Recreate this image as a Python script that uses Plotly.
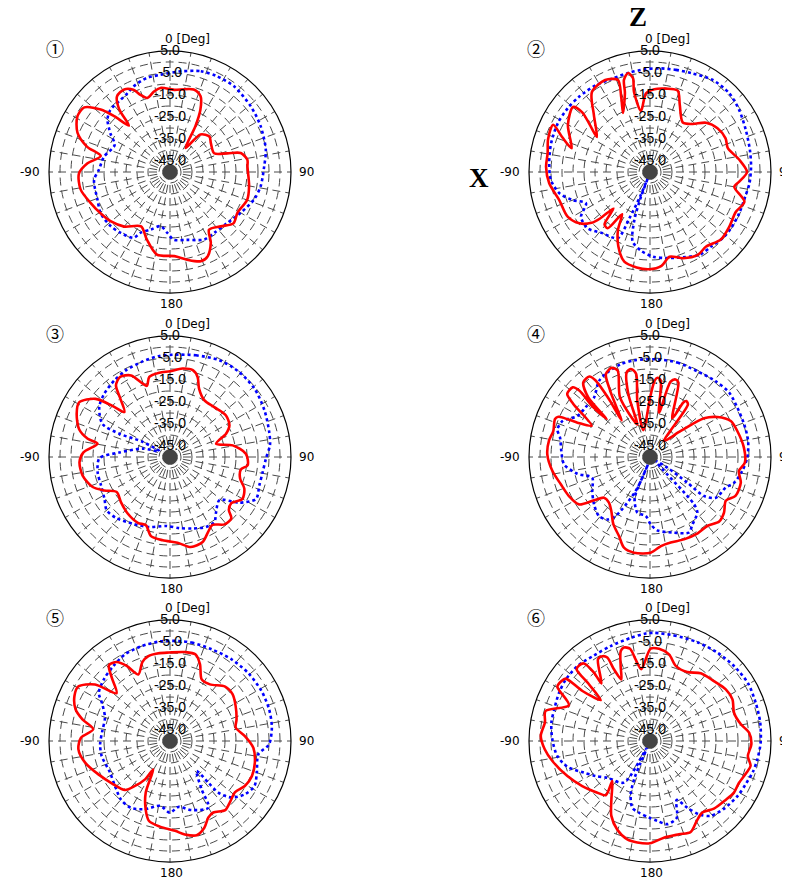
import plotly.graph_objects as go

# ---------------- data (theta in deg, clockwise from top; level in dB) ----------------
ring_vals = [5, -5, -15, -25, -35, -45]
ring_text = ["5.0", "-5.0", "-15.0", "-25.0", "-35.0", "-45.0"]
grid_r = [-45, -40, -35, -30, -25, -20, -15, -10, -5, 0]
ang_ticks = [0, 10, 20, 30, 40, 50, 60, 70, 80, 90, 100, 110, 120, 130, 140, 150, 160, 170,
             180, 190, 200, 210, 220, 230, 240, 250, 260, 270, 280, 290, 300, 310, 320, 330, 340, 350]
ang_label_text = ["0 [Deg]", "90", "180", "-90"]
panel_marks = ["①", "②", "③", "④", "⑤", "⑥"]

c1_red_t = [0,3,16,22,26,29,33,39,48,55,67,72,75,81,86,100,110,121,129,137,146,150,156,161,169,177,189,199,208,220,230,239,249,259,269,276,283,287,293,301,307,312,315,318.5,321,325,331,336,339,343,349,354,360]
c1_red_r = [-12.3,-12.6,-11,-12.9,-18.5,-26.2,-37,-28,-25.9,-27.3,-28.2,-22.6,-16.7,-14.4,-14.7,-13.5,-12.7,-14.2,-12.9,-16.2,-18.3,-12.9,-8,-7.1,-9.4,-11.7,-12,-17.6,-22,-17.6,-15,-13.3,-11.2,-8.6,-8.6,-12.3,-17.7,-10.5,-4.3,-0.9,-1.2,-7.6,-14.1,-21.8,-13.3,-8,-7.1,-9.1,-12.4,-14.8,-12.6,-11.5,-12.3]
c1_blu_t = [6,17,26,37,51,63,77,86.5,99,108,120,132,144,153,166,177,182.5,190,198.5,206,209,219,228,239,249,264,272,283,296,303,310,316,326,332,337,346,354.5,366]
c1_blu_r = [-4,-2.1,-1.5,-1.4,-2.7,-3.8,-5.3,-7.1,-8.3,-9.8,-12.9,-15.2,-15.8,-15.6,-18.2,-19.2,-22.3,-25,-22.4,-19.2,-15.8,-14.4,-13.5,-13.3,-14.7,-15.3,-17.7,-19.2,-22,-17.7,-12.9,-10.9,-10.2,-9.2,-7.7,-6,-5.6,-4]

c2_red_t = [3,10.9,18.8,24,33.5,41.6,48.6,57,66,73,82,90,96,100,107.5,115,124.6,133.5,143,150,159,167,173,180.4,188,196,203,209,213.5,217,221,225,227,229,234,241.5,253,263.6,272.8,280.3,288,296,291.7,286.8,299.8,310.2,311.4,308,303.4,315.5,324,334,340.8,339,335.4,342.4,344.2,347.5,349.7,348.7,351.6,357.1,363]
c2_red_r = [-12.3,-11.4,-10.9,-16.7,-23,-20.8,-16.1,-13.4,-12.4,-13,-9.1,-5.9,-9.1,-11.1,-5,-7,-6.2,-5.5,-7.6,-6.5,-8,-10.5,-7,-5.8,-6.2,-7.6,-13.2,-20,-27,-18,-18.5,-26.5,-19,-14.8,-10.3,-7.4,-6.8,-3.9,-2.7,-2.7,-1.3,-1,-7,-12.8,-7,-4.2,-8.8,-15.4,-21.1,-13.6,-5.1,-3.5,-5.7,-13.5,-20.5,-12.3,-6.5,-3.9,-6.6,-12.9,-22,-14.2,-12.3]
c2_blu_t = [5,14.3,23.4,34,45,55,66,77.6,87,96.5,104.5,115,125,132,140.7,149,159,169.5,178,186.5,194,198,200,199,202,204,206,217.7,228,237,244,250,256.8,265.4,275,286,297.8,307.7,316.8,328,338,348,356.8,365]
c2_blu_r = [-2.7,-2.1,-1.2,0.6,0.8,-0.6,-2.4,-3.5,-4,-4.5,-5.3,-5.3,-5.2,-5.3,-6.2,-6.1,-8.5,-10.2,-11.5,-14,-17.4,-27,-38,-47.5,-38,-27,-16.5,-14.8,-11.8,-12.6,-17.6,-12.6,-7.7,-4.8,-4,-3.2,-2.6,-2.7,-3,-3.5,-4.2,-3.9,-3.3,-2.7]

c3_red_t = [0,8,14.7,19,23,31,41.6,53.4,62,67.4,74,79.5,87.5,96,100,107,113,120,127,132,135,141,148,153,159,167,175,185,193.5,199.4,206,216.8,227.4,236.7,243,248.8,258,266.8,273,280.4,282.5,287,295,301,308,311.7,314.6,320,323,328,334.5,339.6,342,345.5,352.8,360]
c3_red_r = [-11,-9.4,-9.2,-11.5,-16.2,-19.8,-19.7,-18.3,-19.4,-22.4,-28.2,-21,-15.5,-14.5,-17.3,-16.7,-13.3,-12,-15.1,-14,-10.6,-10.6,-13.6,-11.8,-8.6,-8,-10.9,-12,-13,-17.1,-16.7,-17.9,-19.7,-21,-16.5,-12.3,-9.4,-8.8,-10.6,-16.5,-11.7,-6.8,-3.2,-1.8,-7.1,-15.2,-20.9,-14.5,-9.2,-7.1,-8.9,-14.4,-16,-12.4,-11.4,-11]
c3_blu_t = [1.5,14.3,27,39,51,63.7,76,83,91,99,107.6,116,123.4,131,140,145.7,152.8,162.4,172.5,183.3,196.4,209,221.5,230,237.6,247.7,258.3,269,275,287,298,299,294.7,296,305.3,314,324,333,344,354,361.5]
c3_blu_r = [-3.5,-2.3,-0.6,-0.2,-0.6,-2.1,-3.5,-4.2,-6.4,-7.3,-7.4,-6.5,-12.3,-20.2,-17.4,-14.2,-14.2,-15.9,-17.4,-18.6,-16.8,-15.3,-13,-12.4,-14.7,-16.1,-16.4,-17.9,-26.8,-37,-44.5,-35.8,-24.7,-15.9,-10.6,-8.5,-7,-5.8,-4.8,-3.8,-3.5]

c4_red_t = [0.5,3.5,5.3,7.9,11.5,15.3,18.3,20.9,30,31.5,33,35.8,41.2,49.7,54.4,59.3,66,73.4,84.3,93.4,99,105.8,114.5,120,127,133,140,148,157.6,166.4,173,179.6,189.5,196,201.4,208.6,215.6,222,228.5,232.3,236.3,244.3,253,261.8,271.5,279.3,285,291.8,293.7,295.3,298.2,304.7,307.3,312,313.2,311.2,311.3,314,318.2,323,324.5,324.6,322,329,332,336.7,339.5,333.3,338.6,341,344.6,347.8,350.5,347.3,346.1,360.5]
c4_red_r = [-22,-15.2,-13.8,-14.8,-29.4,-14.5,-12.9,-13.8,-29.7,-21,-19.7,-20.5,-40.3,-31.7,-19.8,-14.4,-9.8,-8.6,-7.1,-6.8,-9.1,-7.1,-7.3,-10.2,-7.9,-7,-9.2,-9.1,-9.5,-10,-9.2,-6.5,-5.9,-7.1,-11.4,-15.2,-19.8,-22.1,-22.1,-17.9,-11.2,-9.1,-7.6,-5.2,-3.3,-3.5,-4.5,-3.5,-4.5,-13.2,-19.9,-7.6,-2.7,-2.7,-5.9,-15.8,-23.8,-11,-4.5,-4.2,-7,-18.6,-29,-14.8,-7.3,-5.9,-8,-19.7,-34.2,-19.7,-10.1,-9.1,-11.5,-23.8,-37.4,-22]
c4_blu_t = [4.3,16.2,28.8,40.8,50.8,60.5,71,80.7,90.4,98.6,107,112,121.8,125.8,124.5,121.6,125,137,139.6,147.8,152.7,162.4,174.3,179.4,184.2,192.8,200.7,200.4,195,202.9,210.2,214.4,220.8,229.8,239.5,250.3,257,265.1,273.9,282.1,286.6,292.3,299.4,307.9,316.7,326.1,333.2,342.4,350.6,364.3]
c4_blu_r = [-5.5,-5.3,-5.5,-4.4,-3.6,-4.4,-4.7,-4.8,-5.8,-7.6,-10,-12.9,-14.8,-19.7,-29.4,-40.8,-46.8,-20.6,-16.8,-13.8,-11.4,-13.9,-16.5,-19.4,-23.2,-24.1,-30.3,-40,-46.5,-33.2,-19,-15.6,-14.5,-16.7,-19.5,-22.1,-16.1,-10.8,-9.6,-8.2,-6.1,-7,-12.1,-13,-12.9,-8.4,-7,-5.8,-5.5,-5.5]

c5_red_t = [9.6,16.5,21.4,27.2,35.2,45.4,53.2,62,72,78.5,86.2,94.6,104.3,113.2,121,128.1,135.5,141.4,148.8,153.4,158.4,164.2,171,176.8,186.7,194.7,199.6,205.2,210.5,213,217.9,222.6,234,245,255.7,264.8,272.1,278.7,283.9,288.6,295.2,300.7,307,311.8,317.4,321.1,326,330,334.6,340.7,345.7,352.4,359.4,369.6]
c5_red_r = [-9,-9,-12.6,-18.5,-18.5,-14.8,-14.5,-16.2,-18.2,-19.5,-15.9,-12,-10.2,-9.5,-10.3,-12.4,-11.1,-9.8,-12,-11.1,-7.6,-5.5,-7,-9.1,-10.8,-12.4,-17,-24.1,-35,-29.2,-24.1,-19.7,-17.3,-14.1,-10.2,-8.2,-9.5,-14.7,-9,-4.7,-2,-1.5,-7.3,-17.4,-10.9,-5.8,-6.7,-10.6,-16.5,-12,-10.2,-9.8,-9.8,-9]
c5_blu_t = [4.8,12.4,24.4,37,49.2,61.4,72.3,82.5,92,98.6,110,118,125.4,132.6,136.9,137.4,138.4,146.8,150,162.6,172.8,180,188.7,200,210.3,220,230.7,242.7,257.6,267.3,278.4,289.7,298.5,304.2,313.5,322.9,332.6,343.4,354.3,364.8]
c5_blu_r = [-4.4,-4.2,-4.2,-3.5,-2.9,-2.6,-2.7,-3.3,-5,-9.4,-8,-6.5,-8.2,-12,-17.9,-24.2,-31.8,-23.8,-15,-17.1,-19.8,-17.4,-20.2,-17,-14.8,-15.3,-17.7,-19.2,-18.2,-18.2,-18.9,-18.6,-15,-10.9,-8.8,-7.3,-5.6,-5,-4.5,-4.4]

c6_red_t = [0.4,5.6,12.4,18.9,28.4,36.8,46.8,55.7,63.2,71.4,79.6,85.2,91.9,98.7,103.9,108.1,115.1,121.6,127.9,136.6,143.9,149.7,155.9,162.7,171.8,180,187.1,193,200.2,207.3,213.5,223.3,219.2,225.5,236.4,247,258.4,265.5,272.6,280,286,293.8,300.4,304,306.5,306.5,309.7,312.9,314.3,316.8,319.6,320.7,319.8,327.5,330.7,332.9,333.3,335,338.6,342,344.4,347.8,350,353.1,360.4]
c6_red_r = [-8,-7.9,-9.7,-13.9,-14.4,-11.5,-10.2,-8.3,-8,-9.7,-8,-4.8,-3.9,-5,-2.9,-3.8,-5.3,-5.2,-6.4,-7.7,-9.7,-7.9,-4.7,-5.6,-5.6,-3.5,-3.5,-4.1,-7,-11.7,-18.2,-25,-18.2,-16.5,-13,-9.2,-4.7,-2,-0.3,-1.5,-0.6,-9.7,-1.2,-1.4,-2.3,-11.8,-20.9,-12.1,-3.4,-2.9,-3.7,-9.8,-15.8,-6,-5.8,-7.4,-13.5,-19.1,-13.4,-7,-5.9,-7.1,-12.3,-17.1,-8]
c6_blu_t = [2.1,12.8,25.6,37.3,48.7,59.5,70,80.5,90.9,99.7,106.2,114.4,122.2,132.4,141,146.2,150.8,155.7,160.8,168.2,174.8,180.7,188.7,194.8,199.9,202.7,203.3,205,212,229.3,237.2,244.4,252.8,260.8,271,280.5,289.3,298,306.2,315.9,326.8,337.5,349.4,357.7,362.1]
c6_blu_r = [-0.8,-0.8,-0.2,0.5,1.2,1.7,1.1,0.8,0.3,-0.5,-1.1,-2.3,-3,-4.4,-6.2,-9.8,-15.3,-20.6,-13,-11.4,-13.5,-15.2,-17,-18.6,-24.2,-32,-39.2,-46.4,-27.7,-24.4,-20.6,-16.7,-10.6,-7.3,-5.6,-4.4,-4.1,-3.2,-2.6,-2.6,-3.5,-3.3,-2.3,-1.1,-0.8]

charts = [
    (c1_red_t, c1_red_r, c1_blu_t, c1_blu_r),
    (c2_red_t, c2_red_r, c2_blu_t, c2_blu_r),
    (c3_red_t, c3_red_r, c3_blu_t, c3_blu_r),
    (c4_red_t, c4_red_r, c4_blu_t, c4_blu_r),
    (c5_red_t, c5_red_r, c5_blu_t, c5_blu_r),
    (c6_red_t, c6_red_r, c6_blu_t, c6_blu_r),
]

# ---------------- layout geometry (page has an 8px body margin) ----------------
OFF = 8
W, H = 790 - OFF, 884 - OFF
R = 121
centers = [(170, 172), (650, 172), (170, 457), (650, 457), (170, 741), (650, 741)]
mark_pos = [(55, 48), (536, 48), (55, 333), (536, 333), (55, 617), (536, 617)]


def px(x):
    return (x - OFF) / W


def py(y):
    return 1 - (y - OFF) / H


GRID = "#4a4a4a"
DASH = "8px,5px"

fig = go.Figure()
layout = dict(width=W, height=H, margin=dict(l=0, r=0, t=0, b=0),
              paper_bgcolor="white", plot_bgcolor="white", showlegend=False)
annotations = []

for i, (rt, rr, bt, br) in enumerate(charts):
    name = "polar" if i == 0 else f"polar{i+1}"
    cx, cy = centers[i]
    layout[name] = dict(
        domain=dict(x=[px(cx - R), px(cx + R)], y=[py(cy + R), py(cy - R)]),
        bgcolor="white",
        radialaxis=dict(range=[-50, 5], tickvals=grid_r, showticklabels=False, ticks="",
                        showline=False, gridcolor=GRID, griddash=DASH, gridwidth=1),
        angularaxis=dict(rotation=90, direction="clockwise", tickvals=ang_ticks, showticklabels=False,
                         ticks="", showline=True, linecolor="black", linewidth=1.2,
                         gridcolor=GRID, griddash=DASH, gridwidth=1),
    )
    fig.add_trace(go.Scatterpolar(r=br, theta=bt, mode="lines", subplot=name,
                                  line=dict(color="#0000ff", width=2.6, dash="dot", shape="spline", smoothing=0.8),
                                  hoverinfo="skip"))
    fig.add_trace(go.Scatterpolar(r=rr, theta=rt, mode="lines", subplot=name,
                                  line=dict(color="#ff0000", width=2.6, shape="spline", smoothing=0.8),
                                  hoverinfo="skip"))
    fig.add_trace(go.Scatterpolar(r=[-50], theta=[0], mode="markers", subplot=name,
                                  marker=dict(size=15, color="#444444"), hoverinfo="skip", cliponaxis=False))
    fig.add_trace(go.Scatterpolar(r=ring_vals, theta=[0] * len(ring_vals), mode="text", subplot=name,
                                  text=ring_text, textposition="middle center", cliponaxis=False,
                                  textfont=dict(family="Liberation Sans", size=14, color="black"),
                                  hoverinfo="skip"))
    lab_font = dict(family="DejaVu Sans", size=12, color="black")
    # angle labels: 0 [Deg] (top), 90 (right), 180 (bottom), -90 (left)
    annotations.append(dict(x=px(cx - 7), y=py(cy - 133), xref="paper", yref="paper", text=ang_label_text[0],
                            xanchor="left", yanchor="middle", showarrow=False, font=lab_font))
    annotations.append(dict(x=px(cx + 136), y=py(cy), xref="paper", yref="paper", text=ang_label_text[1],
                            xanchor="center", yanchor="middle", showarrow=False, font=lab_font))
    annotations.append(dict(x=px(cx + 1), y=py(cy + 132), xref="paper", yref="paper", text=ang_label_text[2],
                            xanchor="center", yanchor="middle", showarrow=False, font=lab_font))
    annotations.append(dict(x=px(cx - 140), y=py(cy), xref="paper", yref="paper", text=ang_label_text[3],
                            xanchor="center", yanchor="middle", showarrow=False, font=lab_font))

for i, (mx, my) in enumerate(mark_pos):
    annotations.append(dict(x=px(mx), y=py(my), xref="paper", yref="paper", text=panel_marks[i],
                            xanchor="center", yanchor="middle", showarrow=False,
                            font=dict(family="Noto Sans CJK JP", size=18, color="black")))
annotations.append(dict(x=px(638), y=py(17), xref="paper", yref="paper", text="<b>Z</b>",
                        xanchor="center", yanchor="middle", showarrow=False,
                        font=dict(family="Liberation Serif", size=27, color="black")))
annotations.append(dict(x=px(479), y=py(178), xref="paper", yref="paper", text="<b>X</b>",
                        xanchor="center", yanchor="middle", showarrow=False,
                        font=dict(family="Liberation Serif", size=27, color="black")))
layout["annotations"] = annotations

fig.update_layout(**layout)
fig.write_html("out.html")
